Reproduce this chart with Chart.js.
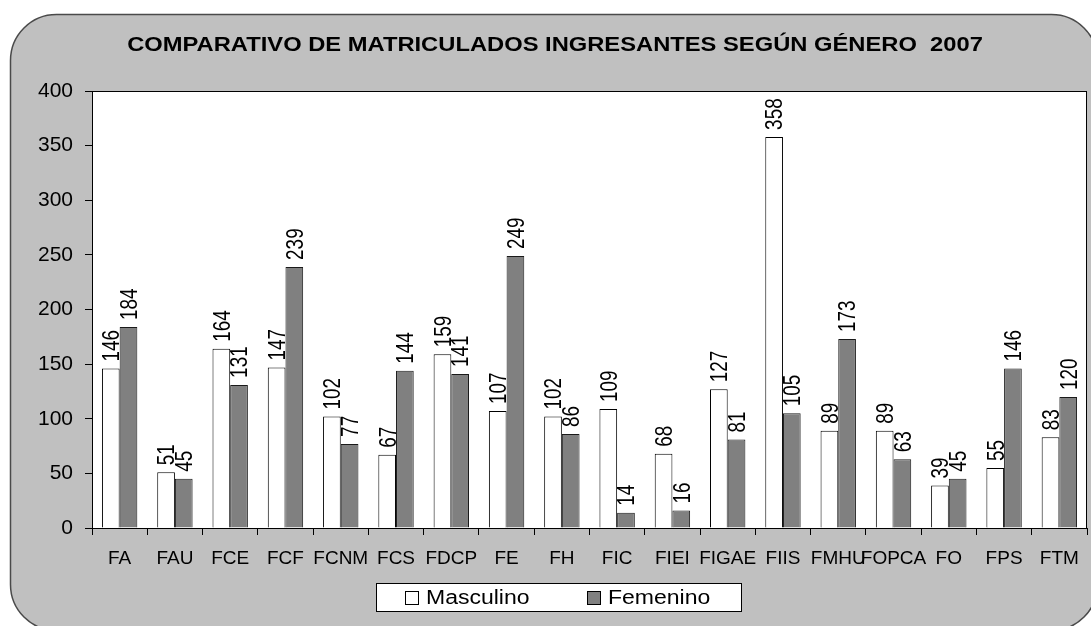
<!DOCTYPE html>
<html>
<head>
<meta charset="utf-8">
<script src="https://cdn.jsdelivr.net/npm/chart.js@4.4.1/dist/chart.umd.min.js"></script>
<style>
  html, body { margin: 0; padding: 0; background: #fff; }
  #wrap { width: 1091px; height: 626px; position: relative; }
</style>
</head>
<body>
<div id="wrap"><canvas id="grafico"></canvas></div>
<script>
// Matriculados ingresantes 2007 por facultad
const facultades = ['FA', 'FAU', 'FCE', 'FCF', 'FCNM', 'FCS', 'FDCP', 'FE', 'FH',
  'FIC', 'FIEI', 'FIGAE', 'FIIS', 'FMHU', 'FOPCA', 'FO', 'FPS', 'FTM'];
const masculino = [146, 51, 164, 147, 102, 67, 159, 107, 102, 109, 68, 127, 358, 89, 89, 39, 55, 83];
const femenino = [184, 45, 131, 239, 77, 144, 141, 249, 86, 14, 16, 81, 105, 173, 63, 45, 146, 120];
const ejeYMax = 400;
const ejeYPaso = 50;
const titulo = 'COMPARATIVO DE MATRICULADOS INGRESANTES SEGÚN GÉNERO  2007';

const FUENTE = '"Liberation Sans", Arial, sans-serif';

// fondo gris redondeado, título y área de trazado blanca
const fondoPlugin = {
  id: 'fondo',
  beforeDraw(chart) {
    const ctx = chart.ctx;
    const a = chart.chartArea;
    ctx.save();
    ctx.fillStyle = '#c0c0c0';
    ctx.strokeStyle = '#4a4a4a';
    ctx.lineWidth = 1.5;
    ctx.beginPath();
    ctx.roundRect(10.5, 14.5, 1087, 616, 46);
    ctx.fill();
    ctx.stroke();
    ctx.fillStyle = '#fff';
    ctx.fillRect(a.left, a.top, a.right - a.left, a.bottom - a.top);

    ctx.translate(555, 51);
    ctx.scale(1.13, 1);
    ctx.font = 'bold 21px ' + FUENTE;
    ctx.fillStyle = '#000';
    ctx.textAlign = 'center';
    ctx.textBaseline = 'alphabetic';
    ctx.fillText(titulo, 0, 0);
    ctx.restore();
  },
  afterDatasetsDraw(chart) {
    const ctx = chart.ctx;
    const a = chart.chartArea;
    ctx.save();
    ctx.strokeStyle = '#000';
    ctx.lineWidth = 1;
    ctx.strokeRect(Math.round(a.left) + 0.5, Math.round(a.top) + 0.5,
      Math.round(a.right - a.left) - 1, Math.round(a.bottom - a.top));
    ctx.restore();
  }
};

// valores verticales encima de cada barra
const etiquetasPlugin = {
  id: 'etiquetas',
  afterDatasetsDraw(chart) {
    const ctx = chart.ctx;
    chart.data.datasets.forEach((ds, i) => {
      const meta = chart.getDatasetMeta(i);
      meta.data.forEach((bar, j) => {
        ctx.save();
        ctx.translate(bar.x, bar.y - 7);
        ctx.rotate(-Math.PI / 2);
        ctx.scale(1.05, 1.3);
        ctx.font = '18px ' + FUENTE;
        ctx.fillStyle = '#000';
        ctx.textAlign = 'left';
        ctx.textBaseline = 'alphabetic';
        ctx.fillText(String(ds.data[j]), 0, 6.4);
        ctx.restore();
      });
    });
  }
};

// leyenda enmarcada bajo el eje
const leyendaPlugin = {
  id: 'leyenda',
  afterDraw(chart) {
    const ctx = chart.ctx;
    ctx.save();
    ctx.fillStyle = '#fff';
    ctx.fillRect(376, 583, 365, 28);
    ctx.strokeStyle = '#000';
    ctx.lineWidth = 1;
    ctx.strokeRect(376.5, 583.5, 365, 28);
    const posiciones = [405, 587];
    chart.data.datasets.forEach((ds, i) => {
      const x = posiciones[i];
      ctx.fillStyle = ds.backgroundColor;
      ctx.fillRect(x, 591, 14, 14);
      ctx.strokeStyle = '#000';
      ctx.strokeRect(x + 0.5, 591.5, 13, 13);
      ctx.save();
      ctx.translate(x + 21, 604);
      ctx.scale(1.15, 1);
      ctx.font = '20px ' + FUENTE;
      ctx.fillStyle = '#000';
      ctx.textBaseline = 'alphabetic';
      ctx.fillText(ds.label, 0, 0);
      ctx.restore();
    });
    ctx.restore();
  }
};

new Chart(document.getElementById('grafico'), {
  type: 'bar',
  data: {
    labels: facultades,
    datasets: [
      {
        label: 'Masculino',
        data: masculino,
        backgroundColor: '#ffffff',
        borderColor: '#000',
        borderWidth: 1
      },
      {
        label: 'Femenino',
        data: femenino,
        backgroundColor: '#808080',
        borderColor: '#1a1a1a',
        borderWidth: 1
      }
    ]
  },
  options: {
    responsive: true,
    maintainAspectRatio: false,
    animation: false,
    layout: { padding: { left: 0, right: 4, top: 91, bottom: 0 } },
    datasets: {
      bar: { categoryPercentage: 0.64, barPercentage: 1.0 }
    },
    scales: {
      x: {
        grid: { drawOnChartArea: false, drawTicks: true, tickLength: 7, color: '#000', offset: true },
        border: { color: '#000' },
        ticks: { color: '#000', font: { family: FUENTE, size: 19 }, padding: 12, maxRotation: 0, autoSkip: false },
        afterFit(scale) { scale.height = 98; }
      },
      y: {
        min: 0,
        max: ejeYMax,
        grid: { drawOnChartArea: false, drawTicks: true, tickLength: 7, color: '#000' },
        border: { color: '#000' },
        ticks: { stepSize: ejeYPaso, color: '#000', font: { family: FUENTE, size: 21 }, padding: 12 },
        afterFit(scale) { scale.width = 92; }
      }
    },
    plugins: {
      legend: { display: false },
      tooltip: { enabled: false },
      title: { display: false }
    }
  },
  plugins: [fondoPlugin, etiquetasPlugin, leyendaPlugin]
});
</script>
</body>
</html>
